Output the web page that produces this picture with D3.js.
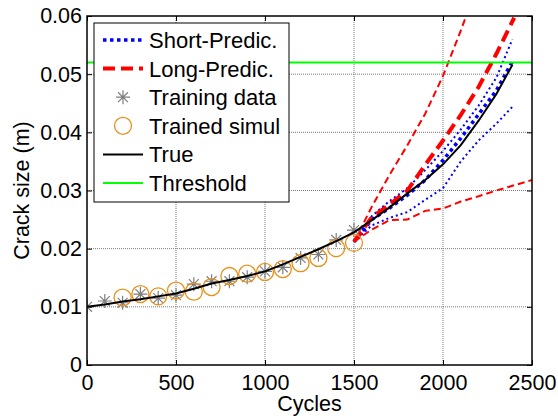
<!DOCTYPE html>
<html>
<head>
<meta charset="utf-8">
<script src="https://cdn.jsdelivr.net/npm/d3@7"></script>
<style>
  body { margin: 0; background: #fff; }
  svg { font-family: Arial, "Liberation Sans", sans-serif; }
</style>
</head>
<body>
<div id="chart"></div>
<script>
// training data (asterisks) every 100 cycles
const trainCycles = [0, 100, 200, 300, 400, 500, 600, 700, 800, 900, 1000, 1100, 1200, 1300, 1400, 1500];
const trainCrack = [0.0100, 0.0110, 0.0107, 0.0122, 0.0115, 0.0120, 0.0139, 0.0144, 0.0144, 0.0151, 0.0161, 0.0168, 0.0184, 0.0190, 0.0215, 0.0232];

// trained simulation (circles)
const simulCycles = [200, 300, 400, 500, 600, 700, 800, 900, 1000, 1100, 1200, 1300, 1400, 1500];
const simulCrack = [0.0116, 0.0122, 0.0118, 0.0128, 0.0126, 0.0134, 0.0153, 0.0157, 0.0160, 0.0165, 0.0175, 0.0184, 0.0201, 0.0210];

// true crack growth
const trueCycles = [0, 100, 200, 300, 400, 500, 600, 700, 800, 900, 1000, 1100, 1200, 1300, 1400, 1500, 1600, 1700, 1800, 1900, 2000, 2100, 2200, 2300, 2390];
const trueCrack = [0.0100, 0.0104, 0.0109, 0.0113, 0.0118, 0.0123, 0.0131, 0.0140, 0.0146, 0.0153, 0.0161, 0.0173, 0.0186, 0.0199, 0.0213, 0.0228, 0.0249, 0.0271, 0.0295, 0.0318, 0.0345, 0.0378, 0.0420, 0.0466, 0.0516];

// short-term prediction (median and bounds)
const shortCycles = [1500, 1600, 1700, 1800, 1900, 2000, 2100, 2200, 2300, 2390];
const shortMed = [0.0212, 0.0250, 0.0270, 0.0292, 0.0318, 0.0352, 0.0390, 0.0431, 0.0472, 0.0522];
const shortUp = [0.0212, 0.0256, 0.0282, 0.0304, 0.0335, 0.0368, 0.0405, 0.0446, 0.0494, 0.0560];
const shortLow = [0.0212, 0.0240, 0.0253, 0.0263, 0.0284, 0.0304, 0.0350, 0.0386, 0.0415, 0.0444];

// long-term prediction
const longMedCycles = [1500, 1600, 1700, 1800, 1900, 2000, 2100, 2200, 2300, 2400];
const longMed = [0.0212, 0.0254, 0.0276, 0.0300, 0.0344, 0.0386, 0.0430, 0.0478, 0.0535, 0.0597];
const longUpCycles = [1500, 1600, 1700, 1800, 1900, 2000, 2100, 2130];
const longUp = [0.0212, 0.0272, 0.0327, 0.0378, 0.0432, 0.0497, 0.0575, 0.0600];
const longLowCycles = [1500, 1600, 1700, 1800, 1900, 2000, 2100, 2200, 2300, 2400, 2500];
const longLow = [0.0212, 0.0233, 0.0249, 0.0250, 0.0265, 0.0269, 0.0281, 0.0290, 0.0300, 0.0309, 0.0318];

const threshold = 0.052;

const xTicks = [0, 500, 1000, 1500, 2000, 2500];
const xTickLabels = ['0', '500', '1000', '1500', '2000', '2500'];
const yTicks = [0, 0.01, 0.02, 0.03, 0.04, 0.05, 0.06];
const yTickLabels = ['0', '0.01', '0.02', '0.03', '0.04', '0.05', '0.06'];

const legendLabels = ['Short-Predic.', 'Long-Predic.', 'Training data', 'Trained simul', 'True', 'Threshold'];

const svgW = 558, svgH = 418;
const plotL = 87, plotR = 532, plotT = 16, plotB = 365;
const fontSize = '21.5px';

const svg = d3.select('#chart').append('svg')
    .attr('width', svgW)
    .attr('height', svgH);

const x = d3.scaleLinear().domain([0, 2500]).range([plotL, plotR]);
const y = d3.scaleLinear().domain([0, 0.06]).range([plotB, plotT]);

svg.append('defs').append('clipPath')
    .attr('id', 'plot-clip')
    .append('rect')
    .attr('x', plotL).attr('y', plotT)
    .attr('width', plotR - plotL).attr('height', plotB - plotT);

// grid
const grid = svg.append('g').attr('class', 'grid');
grid.selectAll('.gx')
    .data(xTicks.slice(1, -1))
    .enter().append('line')
    .attr('x1', d => x(d)).attr('x2', d => x(d))
    .attr('y1', plotT).attr('y2', plotB);
grid.selectAll('.gy')
    .data(yTicks.slice(1, -1))
    .enter().append('line')
    .attr('x1', plotL).attr('x2', plotR)
    .attr('y1', d => y(d)).attr('y2', d => y(d));
grid.selectAll('line')
    .attr('stroke', '#7a7a7a')
    .attr('stroke-width', 1)
    .attr('stroke-dasharray', '1,1');

// axes (ticks inside, like matlab)
const xAxis = svg.append('g')
    .attr('transform', `translate(0,${plotB})`)
    .call(d3.axisBottom(x).tickValues(xTicks).tickSizeInner(-5).tickSizeOuter(0).tickPadding(10)
        .tickFormat((d, i) => xTickLabels[i]));
const xAxisTop = svg.append('g')
    .attr('transform', `translate(0,${plotT})`)
    .call(d3.axisTop(x).tickValues(xTicks).tickSizeInner(-5).tickSizeOuter(0).tickFormat(''));
const yAxis = svg.append('g')
    .attr('transform', `translate(${plotL},0)`)
    .call(d3.axisLeft(y).tickValues(yTicks).tickSizeInner(-5).tickSizeOuter(0).tickPadding(5)
        .tickFormat((d, i) => yTickLabels[i]));
const yAxisRight = svg.append('g')
    .attr('transform', `translate(${plotR},0)`)
    .call(d3.axisRight(y).tickValues(yTicks).tickSizeInner(-5).tickSizeOuter(0).tickFormat(''));

[xAxis, xAxisTop, yAxis, yAxisRight].forEach(g => {
    g.select('.domain').remove();
    g.selectAll('line').attr('stroke', '#000').attr('stroke-width', 1);
    g.selectAll('text')
        .attr('fill', '#000')
        .style('font-size', fontSize)
        .style('font-family', 'Arial, "Liberation Sans", sans-serif');
});

// axis labels
svg.append('text')
    .attr('x', (plotL + plotR) / 2)
    .attr('y', 411)
    .attr('text-anchor', 'middle')
    .style('font-size', fontSize)
    .text('Cycles');

svg.append('text')
    .attr('transform', `translate(29,${(plotT + plotB) / 2}) rotate(-90)`)
    .attr('text-anchor', 'middle')
    .style('font-size', fontSize)
    .text('Crack size (m)');

// curves
const plot = svg.append('g').attr('clip-path', 'url(#plot-clip)');

const line = d3.line()
    .x(d => x(d[0]))
    .y(d => y(d[1]));

function drawCurve(cycles, values, color, width, dash) {
    plot.append('path')
        .datum(cycles.map((c, i) => [c, values[i]]))
        .attr('d', line)
        .attr('fill', 'none')
        .attr('stroke', color)
        .attr('stroke-width', width)
        .attr('stroke-dasharray', dash);
}

// short prediction
drawCurve(shortCycles, shortUp, '#0000ff', 2, '2,3');
drawCurve(shortCycles, shortLow, '#0000ff', 2, '2,3');
drawCurve(shortCycles, shortMed, '#0000ff', 3.5, '3.5,3.5');
// long prediction
drawCurve(longUpCycles, longUp, '#ff0000', 2, '7,4');
drawCurve(longLowCycles, longLow, '#ff0000', 2, '7,4');
drawCurve(longMedCycles, longMed, '#ff0000', 4, '12,6');

// markers
const starR = 7;
const sd = starR * 0.707;
const starPath = `M${-starR},0L${starR},0M0,${-starR}L0,${starR}M${-sd},${-sd}L${sd},${sd}M${-sd},${sd}L${sd},${-sd}`;

plot.selectAll('.star')
    .data(trainCycles.map((c, i) => [c, trainCrack[i]]))
    .enter().append('path')
    .attr('class', 'star')
    .attr('transform', d => `translate(${x(d[0])},${y(d[1])})`)
    .attr('d', starPath)
    .attr('fill', 'none')
    .attr('stroke', '#7f7f7f')
    .attr('stroke-width', 1.2);

plot.selectAll('.simul')
    .data(simulCycles.map((c, i) => [c, simulCrack[i]]))
    .enter().append('circle')
    .attr('class', 'simul')
    .attr('cx', d => x(d[0]))
    .attr('cy', d => y(d[1]))
    .attr('r', 8.5)
    .attr('fill', 'none')
    .attr('stroke', '#e8901a')
    .attr('stroke-width', 1.3);

drawCurve(trueCycles, trueCrack, '#000', 2, null);

// threshold
plot.append('line')
    .attr('x1', x(0)).attr('x2', x(2500))
    .attr('y1', y(threshold)).attr('y2', y(threshold))
    .attr('stroke', '#00ff00')
    .attr('stroke-width', 2);

// box
svg.append('rect')
    .attr('x', plotL).attr('y', plotT)
    .attr('width', plotR - plotL).attr('height', plotB - plotT)
    .attr('fill', 'none')
    .attr('stroke', '#000')
    .attr('stroke-width', 1.5);

// legend
const legend = svg.append('g').attr('class', 'legend');
legend.append('rect')
    .attr('x', 94).attr('y', 23)
    .attr('width', 195).attr('height', 179)
    .attr('fill', '#fff')
    .attr('stroke', '#000')
    .attr('stroke-width', 1);

const rowY = i => 40 + i * 28.6;
const sx1 = 103, sx2 = 143, smid = 123;

const samples = [
    { color: '#0000ff', width: 3.5, dash: '3.5,3.5' },
    { color: '#ff0000', width: 4, dash: '12,6' },
    null,
    null,
    { color: '#000', width: 2, dash: null },
    { color: '#00ff00', width: 2, dash: null }
];

samples.forEach((s, i) => {
    if (s) {
        legend.append('line')
            .attr('x1', sx1).attr('x2', sx2)
            .attr('y1', rowY(i)).attr('y2', rowY(i))
            .attr('stroke', s.color)
            .attr('stroke-width', s.width)
            .attr('stroke-dasharray', s.dash);
    }
});

legend.append('path')
    .attr('transform', `translate(${smid},${rowY(2)})`)
    .attr('d', starPath)
    .attr('fill', 'none')
    .attr('stroke', '#7f7f7f')
    .attr('stroke-width', 1.2);

legend.append('circle')
    .attr('cx', smid).attr('cy', rowY(3))
    .attr('r', 8.5)
    .attr('fill', 'none')
    .attr('stroke', '#e8901a')
    .attr('stroke-width', 1.3);

legend.selectAll('.label')
    .data(legendLabels)
    .enter().append('text')
    .attr('class', 'label')
    .attr('x', 149)
    .attr('y', (d, i) => rowY(i) + 8)
    .style('font-size', '22px')
    .text(d => d);
</script>
</body>
</html>
